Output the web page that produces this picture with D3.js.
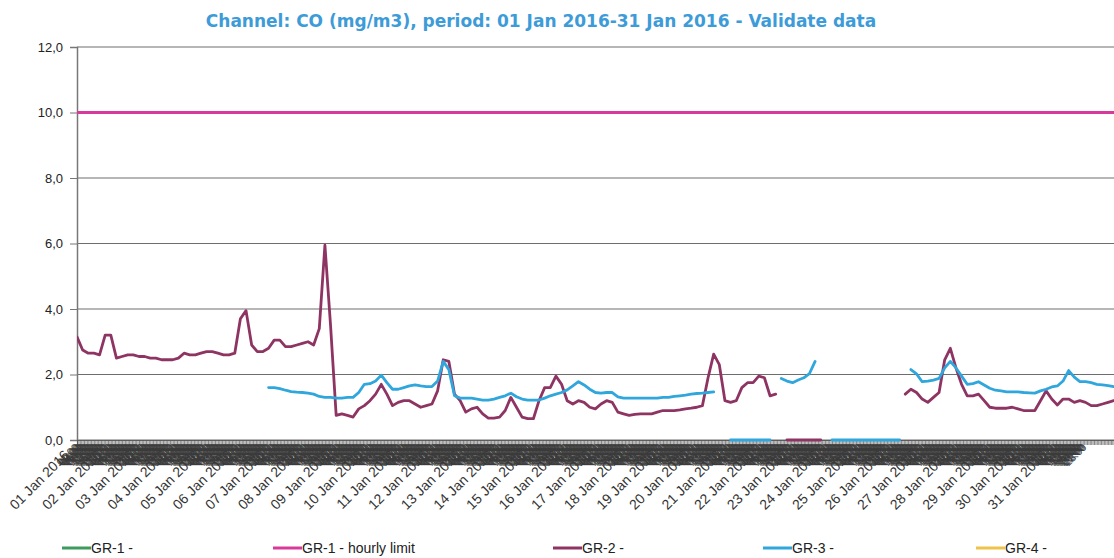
<!DOCTYPE html>
<html>
<head>
<meta charset="utf-8">
<script src="https://cdn.jsdelivr.net/npm/d3@7"></script>
<style>
  body { margin: 0; background: #fff; }
  svg  { display: block; }
</style>
</head>
<body>
<script>
// CO channel, Jan 2016 — hourly validated data, sampled here every 4 hours.

const title = 'Channel: CO (mg/m3), period: 01 Jan 2016-31 Jan 2016 - Validate data';

const seriesNames = ['GR-1 -', 'GR-1 - hourly limit', 'GR-2 -', 'GR-3 -', 'GR-4 -'];
const yTicks      = [0, 2, 4, 6, 8, 10, 12];
const dayCount    = 31;
const sampleStep  = 4;      // hours between samples
const hourlyLimit = 10.0;

// GR-2 (mg/m3), one value per 4 h from 01 Jan 00:00; null = no data
const gr2Values = [
  3.15, 2.75, 2.65, 2.65, 2.6, 3.2, 3.2, 2.5, 2.55, 2.6,
  2.6, 2.55, 2.55, 2.5, 2.5, 2.45, 2.45, 2.45, 2.5, 2.65,
  2.6, 2.6, 2.65, 2.7, 2.7, 2.65, 2.6, 2.6, 2.65, 3.7,
  3.95, 2.9, 2.7, 2.7, 2.8, 3.05, 3.05, 2.85, 2.85, 2.9,
  2.95, 3.0, 2.9, 3.4, 5.95, 3.5, 0.75, 0.8, 0.75, 0.7,
  0.95, 1.05, 1.2, 1.4, 1.7, 1.4, 1.05, 1.15, 1.2, 1.2,
  1.1, 1.0, 1.05, 1.1, 1.5, 2.45, 2.4, 1.4, 1.2, 0.85,
  0.95, 1.0, 0.8, 0.67, 0.67, 0.7, 0.9, 1.3, 1.0, 0.7,
  0.65, 0.65, 1.2, 1.6, 1.6, 1.95, 1.7, 1.2, 1.1, 1.2,
  1.15, 1.0, 0.95, 1.1, 1.2, 1.15, 0.85, 0.8, 0.75, 0.78,
  0.8, 0.8, 0.8, 0.85, 0.9, 0.9, 0.9, 0.92, 0.95, 0.97,
  1.0, 1.05, 1.9, 2.62, 2.3, 1.2, 1.15, 1.2, 1.6, 1.75,
  1.75, 1.95, 1.9, 1.35, 1.4, null, 0, 0, 0, 0,
  0, 0, 0, null, null, null, null, null, null, null,
  null, null, null, null, null, null, null, 1.4, 1.55, 1.45,
  1.25, 1.15, 1.3, 1.45, 2.45, 2.8, 2.2, 1.7, 1.35, 1.35,
  1.4, 1.2, 1.0, 0.97, 0.97, 0.97, 1.0, 0.95, 0.9, 0.9,
  0.9, 1.2, 1.5, 1.25, 1.07, 1.25, 1.25, 1.15, 1.2, 1.15,
  1.05, 1.05, 1.1, 1.15, 1.2, 1.2
];

// GR-3 (mg/m3), same sampling
const gr3Values = [
  null, null, null, null, null, null, null, null, null, null,
  null, null, null, null, null, null, null, null, null, null,
  null, null, null, null, null, null, null, null, null, null,
  null, null, null, null, 1.6, 1.6, 1.57, 1.52, 1.48, 1.46,
  1.45, 1.43, 1.4, 1.33, 1.3, 1.3, 1.28, 1.28, 1.3, 1.3,
  1.45, 1.7, 1.72, 1.8, 1.98, 1.75, 1.55, 1.55, 1.6, 1.65,
  1.68, 1.65, 1.63, 1.63, 1.8, 2.4, 2.15, 1.35, 1.28, 1.28,
  1.28, 1.25, 1.22, 1.22, 1.25, 1.3, 1.35, 1.43, 1.32, 1.25,
  1.22, 1.22, 1.22, 1.28, 1.35, 1.4, 1.45, 1.53, 1.65, 1.78,
  1.68, 1.55, 1.45, 1.43, 1.45, 1.45, 1.32, 1.28, 1.28, 1.28,
  1.28, 1.28, 1.28, 1.28, 1.3, 1.3, 1.33, 1.35, 1.37, 1.4,
  1.42, 1.43, 1.45, 1.47, null, null, 0, 0, 0, 0,
  0, 0, 0, 0, null, 1.88, 1.8, 1.75, 1.83, 1.9,
  2.03, 2.4, null, null, 0, 0, 0, 0, 0, 0,
  0, 0, 0, 0, 0, 0, 0, null, 2.15, 2.02,
  1.78, 1.8, 1.83, 1.88, 2.2, 2.4, 2.2, 1.95, 1.7, 1.72,
  1.78, 1.68, 1.58, 1.52, 1.5, 1.47, 1.47, 1.47, 1.45, 1.44,
  1.43, 1.5, 1.55, 1.62, 1.65, 1.8, 2.12, 1.92, 1.78, 1.78,
  1.75, 1.7, 1.68, 1.66, 1.63, 1.62
];

const colors = {
  gr1:   '#3f9a5e',
  limit: '#d83a9c',
  gr2:   '#8e3463',
  gr3:   '#2fa6dc',
  gr4:   '#efc24a',
};

const W = 1114, H = 558;
const plot = { left: 77, right: 1125, top: 47, bottom: 440 };
const hours = dayCount * 24;
const font = 'Arial, "Liberation Sans", sans-serif';

const svg = d3.select('body').append('svg')
  .attr('width', W).attr('height', H);

const x = d3.scaleLinear().domain([0, hours]).range([plot.left, plot.right]);
// category labels sit on a slightly tighter pitch than the plotted points in the source
const labelScale = d3.scaleLinear().domain([0, hours]).range([70, 70 + hours * 32.6 / 24]);
const y = d3.scaleLinear().domain([0, 12]).range([plot.bottom, plot.top]);

// title
svg.append('text')
  .attr('x', 541).attr('y', 27)
  .attr('text-anchor', 'middle')
  .attr('font-family', 'Tahoma, "DejaVu Sans", sans-serif')
  .attr('font-weight', 'bold')
  .attr('font-size', 17)
  .attr('fill', '#3d9bd8')
  .text(title);

// horizontal gridlines
svg.append('g')
  .selectAll('line')
  .data(yTicks)
  .join('line')
  .attr('x1', plot.left).attr('x2', plot.right)
  .attr('y1', d => y(d)).attr('y2', d => y(d))
  .attr('stroke', '#6e6e6e').attr('stroke-width', 1.2);

// y axis
const yAxis = svg.append('g')
  .attr('transform', `translate(${plot.left},0)`)
  .call(d3.axisLeft(y).tickValues(yTicks).tickSize(7).tickPadding(7)
    .tickFormat(d => d3.format('.1f')(d).replace('.', ',')));
yAxis.select('.domain').attr('stroke', '#777').attr('stroke-width', 1.5);
yAxis.selectAll('.tick line').attr('stroke', '#777');
yAxis.selectAll('text')
  .attr('font-family', font)
  .attr('font-size', 13).attr('fill', '#222');

// x axis: one tick per hour
const xAxis = svg.append('g')
  .attr('transform', `translate(0,${plot.bottom})`)
  .call(d3.axisBottom(x).tickValues(d3.range(0, hours)).tickSize(5).tickFormat(''));
xAxis.select('.domain').attr('stroke', '#666').attr('stroke-width', 1.2);
xAxis.selectAll('.tick line').attr('stroke', '#555').attr('stroke-width', 0.7);

const pad = n => String(n).padStart(2, '0');

// day labels at midnight
svg.append('g')
  .selectAll('text')
  .data(d3.range(0, dayCount))
  .join('text')
  .attr('transform', d => `translate(${labelScale(d * 24)},${plot.bottom + 16}) rotate(-45)`)
  .attr('text-anchor', 'end')
  .attr('font-family', font)
  .attr('font-size', 14)
  .attr('fill', '#333')
  .text(d => `${pad(d + 1)} Jan 2016`);

// hourly tick labels (clock time) — they overlap into a dense band
const hourOnly = d3.range(0, hours).filter(h => h % 24 !== 0);

svg.append('g')
  .selectAll('text')
  .data(hourOnly)
  .join('text')
  .attr('transform', h => `translate(${labelScale(h) + 8},${plot.bottom + 8}) rotate(-45)`)
  .attr('text-anchor', 'end')
  .attr('font-family', font)
  .attr('font-size', 10.5)
  .attr('fill', '#3a3a3a')
  .text(h => `${pad(h % 24)}:00`);

// series
const line = d3.line()
  .defined(d => d.v != null)
  .x(d => x(d.h))
  .y(d => y(d.v));

const toPoints = vals => vals.map((v, i) => ({ h: i * sampleStep, v }));

const series = [
  { key: 'limit', color: colors.limit, points: [{ h: 0, v: hourlyLimit }, { h: hours, v: hourlyLimit }] },
  { key: 'gr2',   color: colors.gr2,   points: toPoints(gr2Values) },
  { key: 'gr3',   color: colors.gr3,   points: toPoints(gr3Values) },
];

svg.append('clipPath').attr('id', 'plot-clip')
  .append('rect')
  .attr('x', plot.left).attr('y', plot.top - 3)
  .attr('width', plot.right - plot.left).attr('height', plot.bottom - plot.top + 6);

svg.append('g')
  .attr('clip-path', 'url(#plot-clip)')
  .selectAll('path')
  .data(series)
  .join('path')
  .attr('d', s => line(s.points))
  .attr('fill', 'none')
  .attr('stroke', s => s.color)
  .attr('stroke-width', 2.8)
  .attr('stroke-linejoin', 'round')
  .attr('stroke-linecap', 'round');

// legend
const legendX = [62, 273, 553, 763, 976];
const legendColors = [colors.gr1, colors.limit, colors.gr2, colors.gr3, colors.gr4];
const legend = svg.append('g')
  .selectAll('g')
  .data(seriesNames)
  .join('g')
  .attr('transform', (d, i) => `translate(${legendX[i]},548)`);

legend.append('line')
  .attr('x1', 0).attr('x2', 29)
  .attr('stroke', (d, i) => legendColors[i])
  .attr('stroke-width', 3);

legend.append('text')
  .attr('x', 29).attr('dy', '0.35em')
  .attr('font-family', font)
  .attr('font-size', 14)
  .attr('fill', '#222')
  .text(d => d);
</script>
</body>
</html>
